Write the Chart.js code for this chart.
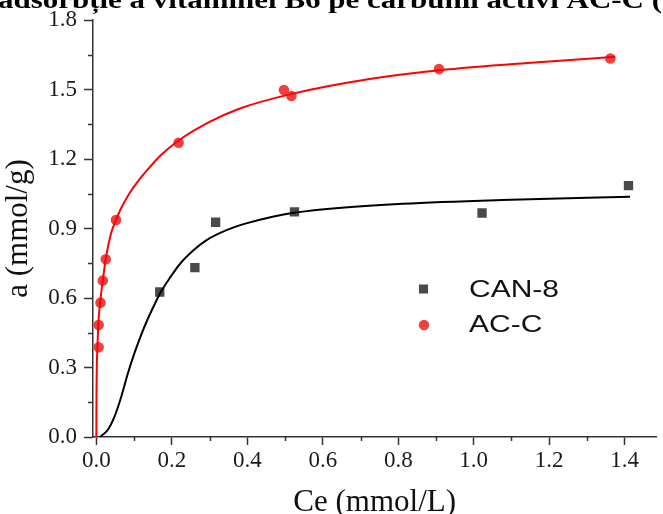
<!DOCTYPE html>
<html>
<head>
<meta charset="utf-8">
<script src="https://cdn.jsdelivr.net/npm/chart.js@4.4.0/dist/chart.umd.min.js"></script>
<style>
  html, body { margin: 0; padding: 0; background: #fff; overflow: hidden; }
  #wrap { position: relative; width: 663px; height: 514px; }
</style>
</head>
<body>
<div id="wrap"><canvas id="chart" width="663" height="514"></canvas></div>
<script>
// caption line cut off at the top of the picture
const captionText = "adsorbție a vitaminei B6 pe cărbunii activi AC-C (";

// measured points
const canCe = [0.168, 0.261, 0.316, 0.525, 1.022, 1.410];
const canA  = [0.626, 0.731, 0.927, 0.972, 0.967, 1.085];
const acCe  = [0.006, 0.006, 0.011, 0.017, 0.025, 0.052, 0.218, 0.497, 0.517, 0.908, 1.362];
const acA   = [0.387, 0.483, 0.580, 0.675, 0.767, 0.937, 1.270, 1.498, 1.472, 1.588, 1.634];

// fitted curves
const canFitCe = [0.009, 0.030, 0.048, 0.066, 0.083, 0.100, 0.118, 0.135, 0.153, 0.170, 0.197, 0.223, 0.258, 0.292, 0.345, 0.397, 0.467, 0.523, 0.650, 0.812, 1.074, 1.414];
const canFitA  = [0.000, 0.030, 0.088, 0.174, 0.272, 0.358, 0.438, 0.505, 0.568, 0.624, 0.692, 0.750, 0.807, 0.850, 0.893, 0.922, 0.951, 0.968, 0.990, 1.007, 1.023, 1.037];
const acFitCe  = [0.000, 0.0003, 0.003, 0.005, 0.010, 0.017, 0.025, 0.039, 0.052, 0.065, 0.087, 0.113, 0.139, 0.170, 0.218, 0.300, 0.375, 0.515, 0.724, 0.908, 1.161, 1.375];
const acFitA   = [0.000, 0.160, 0.390, 0.480, 0.580, 0.675, 0.770, 0.879, 0.937, 0.985, 1.050, 1.110, 1.160, 1.215, 1.280, 1.360, 1.415, 1.480, 1.545, 1.583, 1.617, 1.641];

const seriesNames = ["CAN-8", "AC-C"];

// axes
const xTicks = [0, 0.2, 0.4, 0.6, 0.8, 1.0, 1.2, 1.4];
const xMinor = [0.1, 0.3, 0.5, 0.7, 0.9, 1.1, 1.3];
const yTicks = [0, 0.3, 0.6, 0.9, 1.2, 1.5, 1.8];
const yMinor = [0.15, 0.45, 0.75, 1.05, 1.35, 1.65];

const toPoints = (xs, ys) => xs.map((x, i) => ({ x: x, y: ys[i] }));

const axisColor = "#333";
const tickFont = { family: "'Liberation Serif', 'Times New Roman', serif", size: 23, lineHeight: 1 };
const titleFont = { family: "'Liberation Serif', 'Times New Roman', serif", size: 31, lineHeight: 1 };

// minor ticks drawn from the scales
const minorTicks = {
  id: "minorTicks",
  afterDraw(chart) {
    const ctx = chart.ctx;
    const xs = chart.scales.x, ys = chart.scales.y;
    const area = chart.chartArea;
    ctx.save();
    ctx.strokeStyle = axisColor;
    ctx.lineWidth = 1.5;
    ctx.beginPath();
    xMinor.forEach(v => {
      const px = Math.round(xs.getPixelForValue(v)) + 0.5;
      ctx.moveTo(px, area.bottom);
      ctx.lineTo(px, area.bottom + 4);
    });
    yMinor.forEach(v => {
      const py = Math.round(ys.getPixelForValue(v)) + 0.5;
      ctx.moveTo(area.left - 5, py);
      ctx.lineTo(area.left, py);
    });
    ctx.stroke();
    ctx.restore();
  }
};

// legend inside the plot
const innerLegend = {
  id: "innerLegend",
  afterDatasetsDraw(chart) {
    const ctx = chart.ctx;
    const ds = chart.data.datasets;
    const rows = [
      { set: ds[0], y: 289 },
      { set: ds[1], y: 324 }
    ];
    ctx.save();
    rows.forEach((r, i) => {
      ctx.fillStyle = r.set.backgroundColor;
      if (r.set.pointStyle === "rect") {
        ctx.fillRect(419, r.y - 4.5, 9, 9);
      } else {
        ctx.beginPath();
        ctx.arc(424, r.y + 1, 5.2, 0, Math.PI * 2);
        ctx.fill();
      }
      ctx.save();
      ctx.translate(469, r.y);
      ctx.scale(1.25, 1);
      ctx.fillStyle = "#111";
      ctx.font = "24px 'Liberation Sans', Arial, sans-serif";
      ctx.textBaseline = "middle";
      ctx.fillText(seriesNames[i], 0, 1);
      ctx.restore();
    });
    ctx.restore();
  }
};

// caption, mostly cut off above the picture
const caption = {
  id: "caption",
  afterDraw(chart) {
    const ctx = chart.ctx;
    ctx.save();
    ctx.font = "bold 26px 'Liberation Serif', 'Times New Roman', serif";
    const w = ctx.measureText(captionText).width;
    ctx.translate(-2, 8);
    ctx.scale(664 / w, 1);
    ctx.fillStyle = "#000";
    ctx.textBaseline = "alphabetic";
    ctx.fillText(captionText, 0, 0);
    ctx.restore();
  }
};

new Chart(document.getElementById("chart"), {
  type: "scatter",
  data: {
    datasets: [
      {
        label: seriesNames[0],
        data: toPoints(canCe, canA),
        pointStyle: "rect",
        pointRadius: 6.6,
        pointHoverRadius: 6.6,
        backgroundColor: "#4a4a4a",
        borderWidth: 0,
        order: 2
      },
      {
        label: seriesNames[1],
        data: toPoints(acCe, acA),
        pointStyle: "circle",
        pointRadius: 5.3,
        pointHoverRadius: 5.3,
        backgroundColor: "#f04040",
        borderWidth: 0,
        order: 2
      },
      {
        label: "CAN-8 fit",
        data: toPoints(canFitCe, canFitA),
        showLine: true,
        pointRadius: 0,
        borderColor: "#000",
        borderWidth: 2,
        cubicInterpolationMode: "monotone",
        order: 1
      },
      {
        label: "AC-C fit",
        data: toPoints(acFitCe, acFitA),
        showLine: true,
        pointRadius: 0,
        borderColor: "#ff0000",
        borderWidth: 2,
        cubicInterpolationMode: "monotone",
        order: 1
      }
    ]
  },
  options: {
    responsive: false,
    devicePixelRatio: 1,
    animation: false,
    events: [],
    layout: { padding: { left: 0, right: 0, top: 20, bottom: 0 } },
    plugins: {
      legend: { display: false },
      tooltip: { enabled: false }
    },
    scales: {
      x: {
        type: "linear",
        min: -0.0089,
        max: 1.484,
        afterBuildTicks: s => { s.ticks = xTicks.map(v => ({ value: v })); },
        afterFit: s => { s.height = 77; },
        border: { color: axisColor, width: 1.5 },
        grid: { drawOnChartArea: false, tickLength: 8, tickColor: axisColor, tickWidth: 1.5 },
        ticks: {
          color: "#1a1a1a",
          font: tickFont,
          padding: 4,
          maxRotation: 0,
          callback: v => Number(v).toFixed(1)
        },
        title: {
          display: true,
          text: "Ce (mmol/L)",
          color: "#111",
          font: titleFont,
          padding: { top: 0, bottom: -4.5 }
        }
      },
      y: {
        type: "linear",
        min: 0,
        max: 1.8,
        afterBuildTicks: s => { s.ticks = yTicks.map(v => ({ value: v })); },
        afterFit: s => { s.width = 93; },
        border: { color: axisColor, width: 1.5 },
        grid: { drawOnChartArea: false, tickLength: 9, tickColor: axisColor, tickWidth: 1.5 },
        ticks: {
          color: "#1a1a1a",
          font: tickFont,
          padding: 7,
          callback: v => Number(v).toFixed(1)
        },
        title: {
          display: true,
          text: "a (mmol/g)",
          color: "#111",
          font: titleFont,
          padding: { top: 3, bottom: 0 }
        }
      }
    }
  },
  plugins: [minorTicks, innerLegend, caption]
});
</script>
</body>
</html>
